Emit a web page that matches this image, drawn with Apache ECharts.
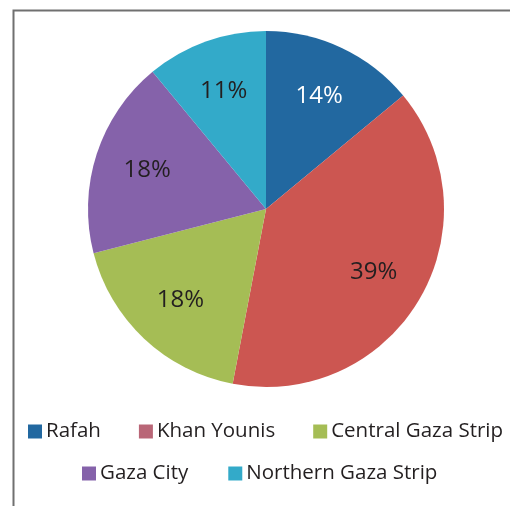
<!DOCTYPE html>
<html>
<head>
<meta charset="utf-8">
<script src="https://cdn.jsdelivr.net/npm/echarts@6/dist/echarts.min.js"></script>
<style>
html,body{margin:0;padding:0;background:#fff;}
#chart{width:510px;height:506px;}
</style>
</head>
<body>
<div id="chart"></div>
<script>
const categories = ['Rafah', 'Khan Younis', 'Central Gaza Strip', 'Gaza City', 'Northern Gaza Strip'];
const values = [14, 39, 18, 18, 11];
const sliceColors = ['#2268a0', '#cc5651', '#a5bd55', '#8562aa', '#33aac9'];
const legendColors = ['#2268a0', '#b96677', '#a5bd55', '#8562aa', '#33aac9'];
const labelColors = ['#ffffff', '#231f20', '#231f20', '#231f20', '#231f20'];

const chart = echarts.init(document.getElementById('chart'), null, {renderer: 'canvas'});
const font = '"Open Sans", Lato, sans-serif';

const pieData = categories.map((c, i) => ({
  name: c, value: values[i], itemStyle: {color: sliceColors[i]}
}));
const labelData = categories.map((c, i) => ({
  name: c, value: values[i],
  label: {color: labelColors[i]}
}));
const legendItem = i => ({name: categories[i], itemStyle: {color: legendColors[i]}});

chart.setOption({
  animation: false,
  backgroundColor: '#ffffff',
  graphic: [{
    type: 'rect', left: 11, top: 8,
    shape: {width: 600, height: 600},
    style: {fill: 'none', stroke: '#707070', lineWidth: 2},
    z: -1
  }],
  legend: [{
    data: [0, 1, 2].map(legendItem),
    top: 416, left: 23,
    itemWidth: 14, itemHeight: 14, itemGap: 38,
    icon: 'rect',
    textStyle: {fontFamily: font, fontSize: 20.5, color: '#231f20', padding: [0, 0, 0, -1]},
    selectedMode: false
  }, {
    data: [3, 4].map(legendItem),
    top: 458, left: 77,
    itemWidth: 14, itemHeight: 14, itemGap: 40,
    icon: 'rect',
    textStyle: {fontFamily: font, fontSize: 20.5, color: '#231f20', padding: [0, 0, 0, -1]},
    selectedMode: false
  }],
  series: [{
    type: 'pie',
    center: [266, 209],
    radius: [0, 178],
    startAngle: 90,
    clockwise: true,
    label: {show: false},
    labelLine: {show: false},
    silent: true,
    data: pieData
  }, {
    type: 'pie',
    center: [266, 209],
    radius: [70, 174],
    startAngle: 90,
    clockwise: true,
    silent: true,
    itemStyle: {color: 'rgba(0,0,0,0)'},
    label: {
      show: true, position: 'inside',
      formatter: '{c}%',
      fontFamily: font, fontSize: 24, color: '#231f20'
    },
    labelLine: {show: false},
    data: labelData
  }]
});
</script>
</body>
</html>
